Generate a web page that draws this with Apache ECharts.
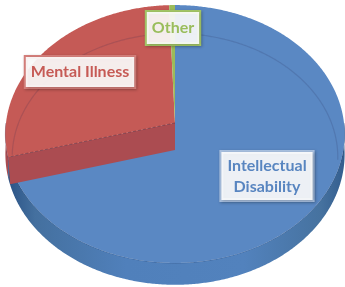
<!DOCTYPE html>
<html><head><meta charset="utf-8">
<script src="https://cdn.jsdelivr.net/npm/echarts@6/dist/echarts.min.js"></script>
<style>html,body{margin:0;padding:0;background:#fff}#c{width:345px;height:287px}</style>
</head><body><div id="c"></div>
<script>
// ---- data ----
const categories = ['Intellectual Disability', 'Mental Illness', 'Other'];
const values = [70.8, 28.6, 0.6];
const labelTexts = ['Intellectual\nDisability', 'Mental Illness', 'Other'];

// ---- style / layout ----
const topColors = ['#5a88c3', '#c55a56', '#9bbb59'];
const wallColors = ['#4f7cb6', '#a94b4f', '#7f9c45'];
const cutColors = ['#3f6699', '#ab4c51', '#7a9640'];
const textColors = ['#5885c0', '#c65a55', '#9abd5c'];
const borderColors = ['#a8c0e0', '#d47e7a', '#a3c566'];
const labelPos = [[267, 176], [80, 72], [173, 28]];
const labelPad = [[3, 6, 3, 6], [5, 5, 4, 5], [6, 5, 5, 5]];
const G = { cx: 175, cy: 123, s: 169, a: 128, k: 0.0853, depth: 20, cut: 27 };

function P(theta, r, dy) {
  r = r == null ? 1 : r; dy = dy || 0;
  const t = theta * Math.PI / 180;
  const x = r * Math.sin(t), z = r * Math.cos(t);
  const d = 1 + G.k * z;
  return [G.cx + G.s * x / d, G.cy - G.a * z / d + dy];
}
function depthAt(theta) {
  const z = Math.cos(theta * Math.PI / 180);
  return G.depth / (1 + G.k * z);
}
function arc(a0, a1, r, dy) {
  const n = Math.max(2, Math.ceil(Math.abs(a1 - a0) / 0.5));
  const pts = [];
  for (let j = 0; j <= n; j++) pts.push(P(a0 + (a1 - a0) * j / n, r, dy));
  return pts;
}
const total = values.reduce((a, b) => a + b, 0);
const starts = [];
(function () { let acc = 0; values.forEach(v => { starts.push(acc / total * 360); acc += v; }); })();

function renderItem(params, api) {
  const i = params.dataIndex;
  const v = api.value(0);
  const th0 = starts[i];
  const th1 = th0 + v / total * 360;
  const children = [];
  const V = [G.cx, G.cy];

  // outer wall (front-facing part)
  const w0 = Math.max(th0, 90), w1 = Math.min(th1, 270);
  if (w1 > w0) {
    const topPts = arc(w0, w1, 1, 0);
    const botPts = [];
    const n = topPts.length - 1;
    for (let j = n; j >= 0; j--) {
      const th = w0 + (w1 - w0) * j / n;
      const p = P(th, 1, 0);
      botPts.push([p[0], p[1] + depthAt(th)]);
    }
    const fill = i === 0 ? {
      type: 'linear', x: 0, y: 0, x2: 1, y2: 0,
      colorStops: [
        { offset: 0, color: '#2c5486' }, { offset: 0.08, color: '#44709f' },
        { offset: 0.35, color: '#5080bb' }, { offset: 0.7, color: '#5282bd' },
        { offset: 0.93, color: '#46729f' }, { offset: 1, color: '#335d8e' }
      ]
    } : wallColors[i];
    children.push({ type: 'polygon', z2: 1, shape: { points: topPts.concat(botPts) }, style: { fill: fill } });
    children.push({ type: 'polyline', z2: 2, shape: { points: topPts }, style: { stroke: 'rgba(30,50,90,0.35)', lineWidth: 1, fill: null } });
  }

  // top face
  children.push({ type: 'polygon', z2: 3, shape: { points: [V].concat(arc(th0, th1, 1, 0)) }, style: { fill: topColors[i] } });

  // bevel line on back half
  const segs = [];
  let cur = [];
  const steps = Math.max(2, Math.ceil((th1 - th0) / 0.5));
  for (let j = 0; j <= steps; j++) {
    const th = th0 + (th1 - th0) * j / steps;
    const m = ((th % 360) + 360) % 360;
    if (m >= 266 || m <= 96) cur.push(P(th, 0.96, 24));
    else if (cur.length) { segs.push(cur); cur = []; }
  }
  if (cur.length) segs.push(cur);
  if (i !== 2) segs.forEach(s => {
    if (s.length > 2) children.push({ type: 'polyline', z2: 4, shape: { points: s }, style: { stroke: 'rgba(40,40,80,0.16)', lineWidth: 1.2, fill: null } });
  });

  // cut face at slice start edge (visible when facing viewer)
  if (th0 > 180 && th0 < 340) {
    const R = P(th0, 1, 0);
    const pts = [V, R, [R[0] + 2, R[1] + G.cut], [V[0], V[1] + G.cut]];
    children.push({ type: 'polygon', z2: 5, shape: { points: pts }, style: { fill: cutColors[i] } });
    children.push({ type: 'polyline', z2: 6, shape: { points: [V, R] }, style: { stroke: 'rgba(90,30,40,0.45)', lineWidth: 1, lineDash: [3, 2], fill: null } });
  }

  // label
  children.push({
    type: 'text', z2: 10, x: labelPos[i][0], y: labelPos[i][1],
    style: {
      text: labelTexts[i], fill: textColors[i],
      font: 'bold 16px Lato', lineHeight: 21, align: 'center', verticalAlign: 'middle',
      backgroundColor: 'rgba(255,255,255,0.9)', borderColor: borderColors[i], borderWidth: 2,
      padding: labelPad[i], shadowColor: 'rgba(0,0,0,0.25)', shadowBlur: 3, shadowOffsetX: 1, shadowOffsetY: 1
    }
  });
  return { type: 'group', children: children };
}

const chart = echarts.init(document.getElementById('c'), null, { renderer: 'canvas' });
chart.setOption({
  backgroundColor: '#ffffff',
  animation: false,
  series: [{
    type: 'custom',
    coordinateSystem: 'none',
    renderItem: renderItem,
    data: values.map((v, i) => ({ value: [v], name: categories[i] }))
  }]
});
</script>
</body></html>
